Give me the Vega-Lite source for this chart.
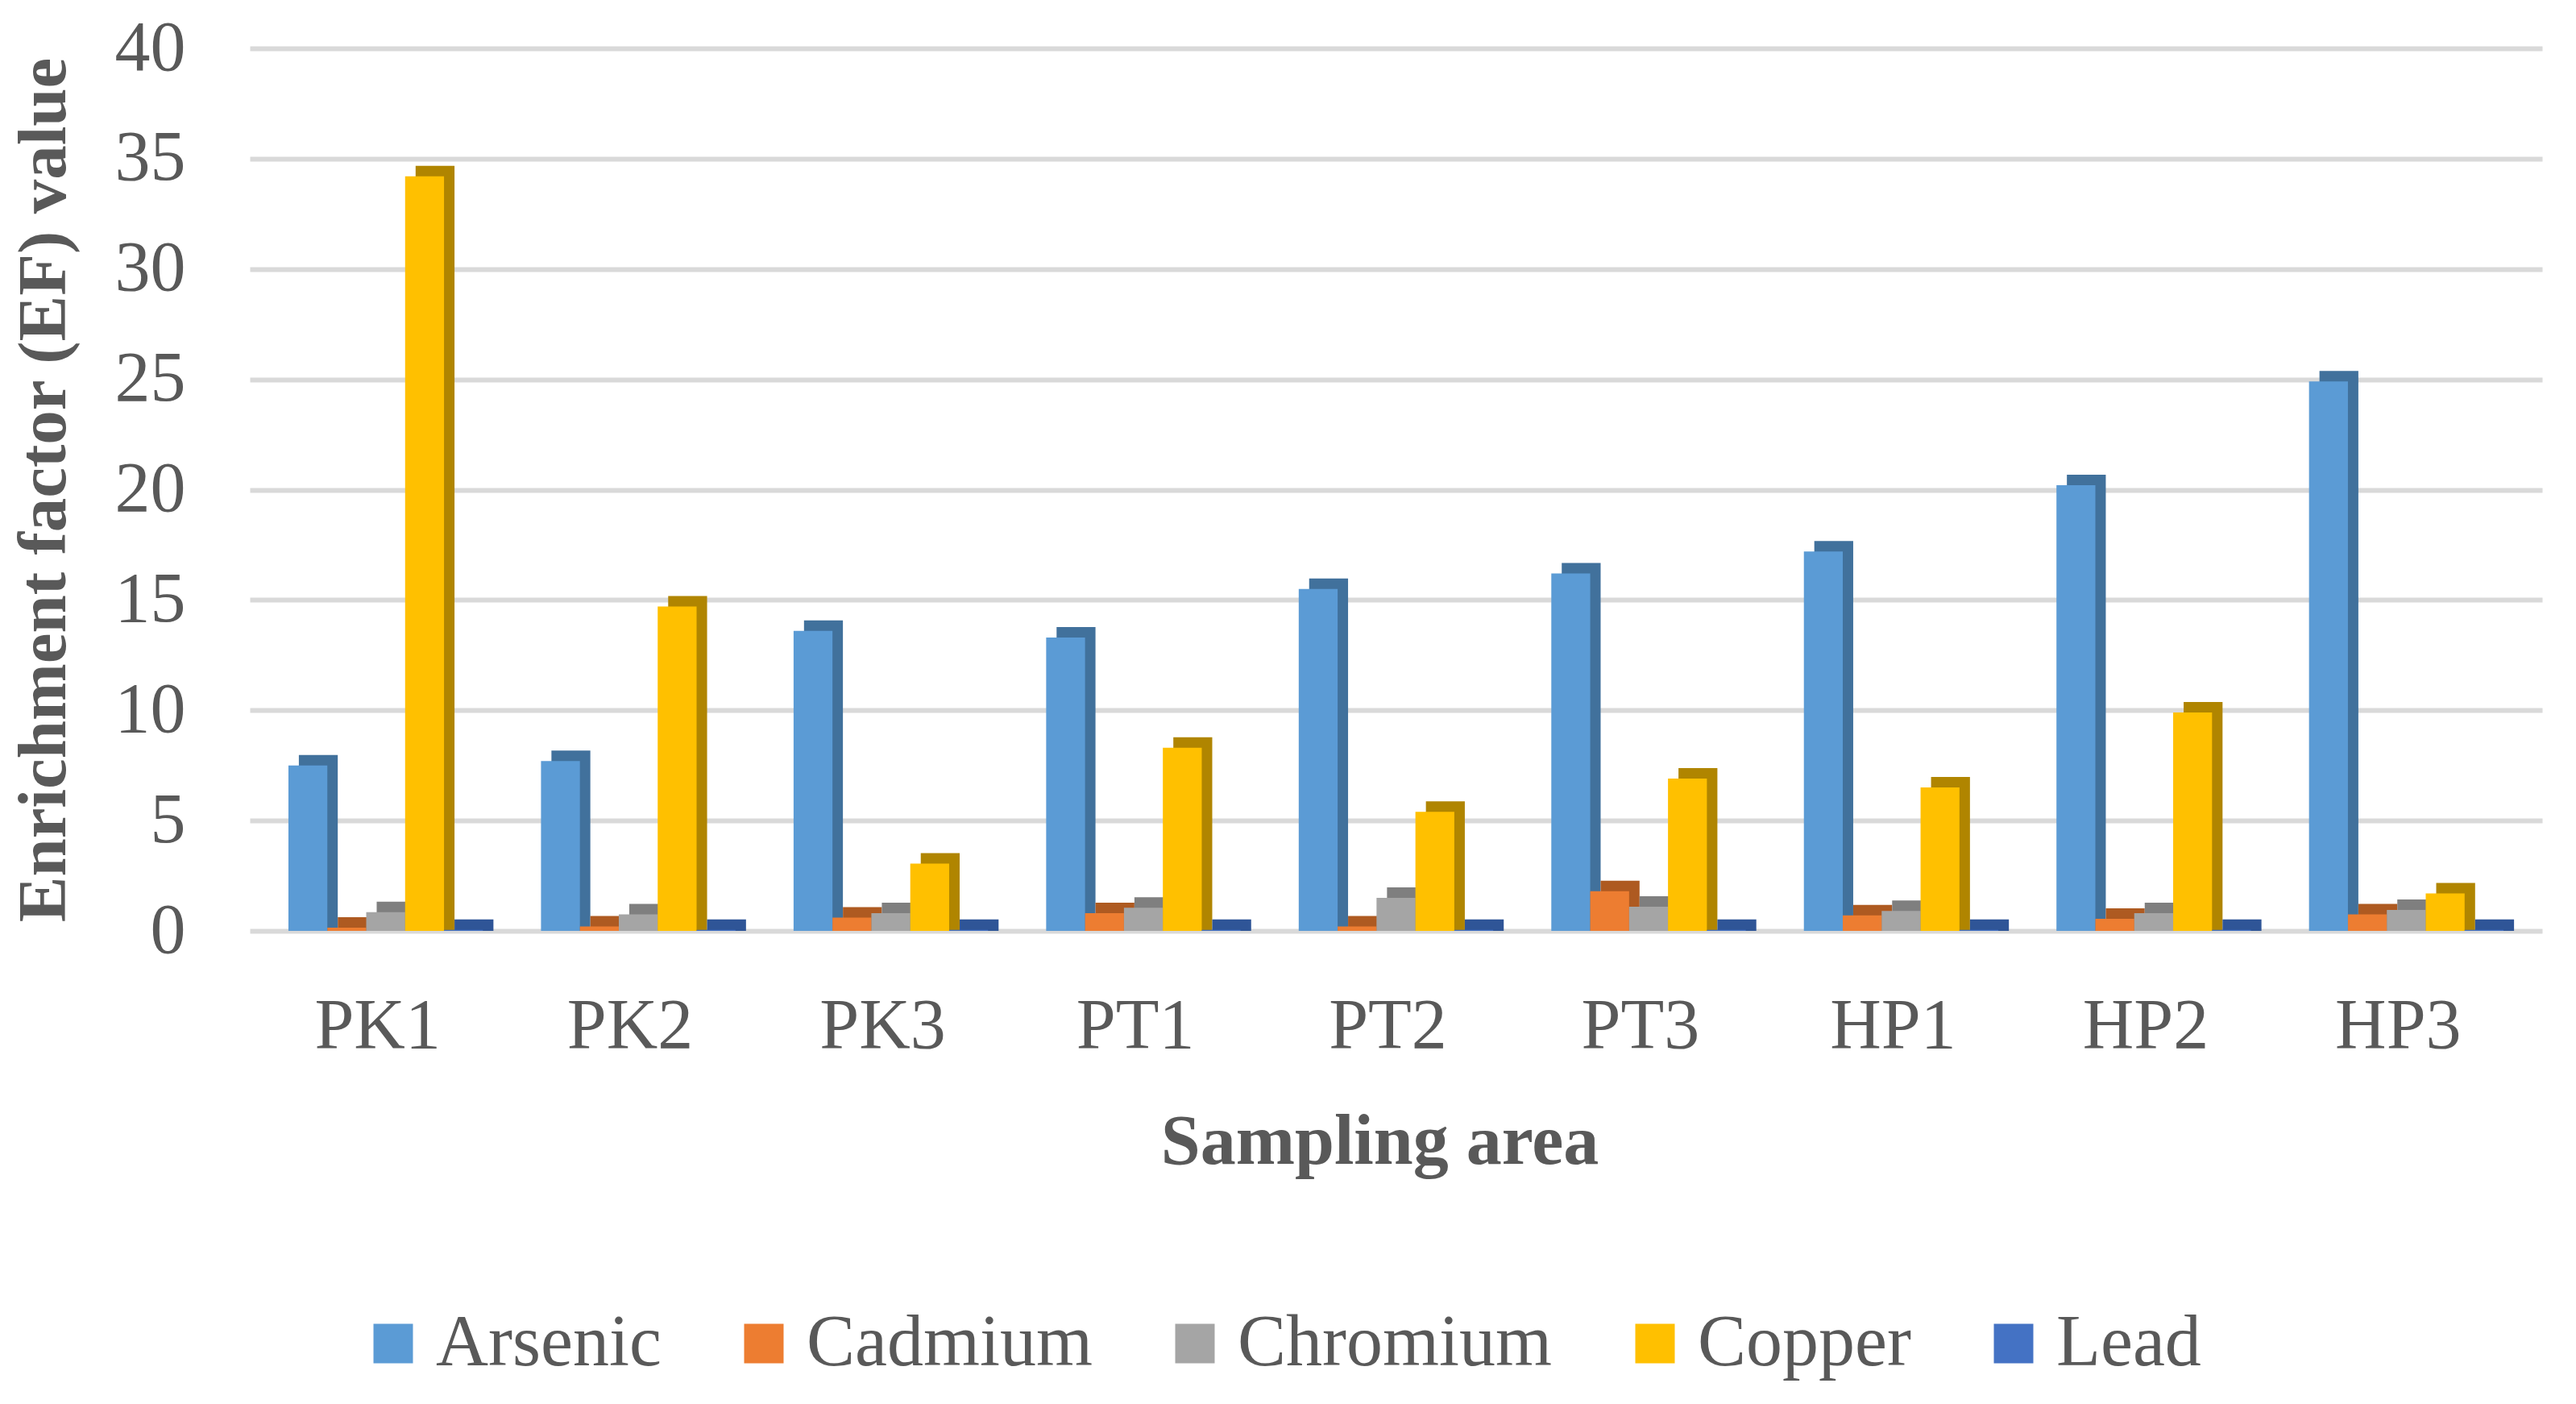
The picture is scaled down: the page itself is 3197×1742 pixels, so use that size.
{
  "$schema": "https://vega.github.io/schema/vega-lite/v6.json",
  "width": 2845,
  "height": 1095,
  "autosize": {"type": "none"},
  "padding": {"left": 310, "top": 60, "right": 42, "bottom": 587},
  "background": "white",
  "config": {
    "font": "Liberation Serif",
    "view": {"stroke": null}
  },
  "data": {
    "values": [
      {"site": "PK1", "element": "Arsenic", "value": 7.5},
      {"site": "PK1", "element": "Cadmium", "value": 0.15},
      {"site": "PK1", "element": "Chromium", "value": 0.85},
      {"site": "PK1", "element": "Copper", "value": 34.2},
      {"site": "PK1", "element": "Lead", "value": 0.05},
      {"site": "PK2", "element": "Arsenic", "value": 7.7},
      {"site": "PK2", "element": "Cadmium", "value": 0.2},
      {"site": "PK2", "element": "Chromium", "value": 0.75},
      {"site": "PK2", "element": "Copper", "value": 14.7},
      {"site": "PK2", "element": "Lead", "value": 0.05},
      {"site": "PK3", "element": "Arsenic", "value": 13.6},
      {"site": "PK3", "element": "Cadmium", "value": 0.6},
      {"site": "PK3", "element": "Chromium", "value": 0.8},
      {"site": "PK3", "element": "Copper", "value": 3.05},
      {"site": "PK3", "element": "Lead", "value": 0.05},
      {"site": "PT1", "element": "Arsenic", "value": 13.3},
      {"site": "PT1", "element": "Cadmium", "value": 0.8},
      {"site": "PT1", "element": "Chromium", "value": 1.05},
      {"site": "PT1", "element": "Copper", "value": 8.3},
      {"site": "PT1", "element": "Lead", "value": 0.05},
      {"site": "PT2", "element": "Arsenic", "value": 15.5},
      {"site": "PT2", "element": "Cadmium", "value": 0.2},
      {"site": "PT2", "element": "Chromium", "value": 1.5},
      {"site": "PT2", "element": "Copper", "value": 5.4},
      {"site": "PT2", "element": "Lead", "value": 0.05},
      {"site": "PT3", "element": "Arsenic", "value": 16.2},
      {"site": "PT3", "element": "Cadmium", "value": 1.8},
      {"site": "PT3", "element": "Chromium", "value": 1.1},
      {"site": "PT3", "element": "Copper", "value": 6.9},
      {"site": "PT3", "element": "Lead", "value": 0.05},
      {"site": "HP1", "element": "Arsenic", "value": 17.2},
      {"site": "HP1", "element": "Cadmium", "value": 0.7},
      {"site": "HP1", "element": "Chromium", "value": 0.9},
      {"site": "HP1", "element": "Copper", "value": 6.5},
      {"site": "HP1", "element": "Lead", "value": 0.05},
      {"site": "HP2", "element": "Arsenic", "value": 20.2},
      {"site": "HP2", "element": "Cadmium", "value": 0.55},
      {"site": "HP2", "element": "Chromium", "value": 0.8},
      {"site": "HP2", "element": "Copper", "value": 9.9},
      {"site": "HP2", "element": "Lead", "value": 0.05},
      {"site": "HP3", "element": "Arsenic", "value": 24.9},
      {"site": "HP3", "element": "Cadmium", "value": 0.75},
      {"site": "HP3", "element": "Chromium", "value": 0.95},
      {"site": "HP3", "element": "Copper", "value": 1.7},
      {"site": "HP3", "element": "Lead", "value": 0.05}
    ]
  },
  "encoding": {
    "x": {
      "field": "site",
      "type": "nominal",
      "sort": ["PK1", "PK2", "PK3", "PT1", "PT2", "PT3", "HP1", "HP2", "HP3"],
      "scale": {"paddingInner": 0.23, "paddingOuter": 0.153},
      "title": "Sampling area",
      "axis": {
        "labelAngle": 0,
        "labelFontSize": 88,
        "labelColor": "#595959",
        "labelPadding": 74,
        "labelOffset": -10,
        "domain": false,
        "ticks": false,
        "titleFontSize": 88,
        "titleFontWeight": "bold",
        "titleColor": "#595959",
        "titlePadding": 56,
        "titleX": 1402
      }
    },
    "y": {
      "field": "value",
      "type": "quantitative",
      "scale": {"domain": [0, 40]},
      "title": "Enrichment factor (EF) value",
      "axis": {
        "values": [0, 5, 10, 15, 20, 25, 30, 35, 40],
        "labelFontSize": 88,
        "labelColor": "#595959",
        "labelPadding": 80,
        "domain": false,
        "ticks": false,
        "grid": true,
        "gridColor": "#D9D9D9",
        "gridWidth": 6,
        "titleFontSize": 85,
        "titleFontWeight": "bold",
        "titleColor": "#595959",
        "titlePadding": 44
      }
    }
  },
  "layer": [
    {
      "transform": [{"filter": "datum.element == 'Arsenic'"}],
      "mark": {"type": "bar", "width": 48.28, "xOffset": -83.6, "yOffset": -13, "y2Offset": 0, "color": "#41719C"},
      "encoding": {"y2": {"datum": 0}}
    },
    {
      "transform": [{"filter": "datum.element == 'Cadmium'"}],
      "mark": {"type": "bar", "width": 48.28, "xOffset": -35.3, "yOffset": -13, "y2Offset": 0, "color": "#AE5A21"},
      "encoding": {"y2": {"datum": 0}}
    },
    {
      "transform": [{"filter": "datum.element == 'Chromium'"}],
      "mark": {"type": "bar", "width": 48.28, "xOffset": 13, "yOffset": -13, "y2Offset": 0, "color": "#7F7F7F"},
      "encoding": {"y2": {"datum": 0}}
    },
    {
      "transform": [{"filter": "datum.element == 'Copper'"}],
      "mark": {"type": "bar", "width": 48.28, "xOffset": 61.3, "yOffset": -13, "y2Offset": 0, "color": "#B08500"},
      "encoding": {"y2": {"datum": 0}}
    },
    {
      "transform": [{"filter": "datum.element == 'Lead'"}],
      "mark": {"type": "bar", "width": 48.28, "xOffset": 109.6, "yOffset": -13, "y2Offset": 0, "color": "#2F5597"},
      "encoding": {"y2": {"datum": 0}}
    },
    {
      "mark": {"type": "bar"},
      "encoding": {
        "xOffset": {
          "field": "element",
          "type": "nominal",
          "sort": ["Arsenic", "Cadmium", "Chromium", "Copper", "Lead"],
          "scale": {"paddingInner": 0, "paddingOuter": 0}
        },
        "color": {
          "field": "element",
          "type": "nominal",
          "scale": {
            "domain": ["Arsenic", "Cadmium", "Chromium", "Copper", "Lead"],
            "range": ["#5B9BD5", "#ED7D31", "#A5A5A5", "#FFC000", "#4472C4"]
          },
          "legend": {
            "title": null,
            "orient": "none",
            "direction": "horizontal",
            "legendX": 133,
            "legendY": 1562,
            "symbolType": "square",
            "symbolSize": 2400,
            "symbolStrokeWidth": 0,
            "labelFontSize": 90,
            "labelColor": "#595959",
            "labelOffset": 8,
            "columnPadding": 82,
            "labelLimit": 1000
          }
        }
      }
    }
  ]
}
